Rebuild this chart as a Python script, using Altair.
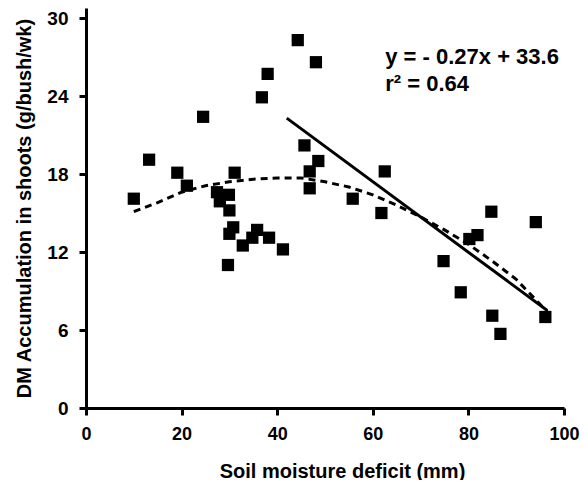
import altair as alt
import pandas as pd

# Observed points (soil moisture deficit mm, DM accumulation g/bush/wk)
pt_x = [10.0, 13.2, 19.1, 21.1, 24.5, 27.4, 28.0, 29.9, 30.0, 31.1, 30.8, 30.0, 29.7,
        32.8, 34.8, 35.8, 38.3, 41.2, 36.8, 38.0, 44.3, 48.1, 45.7, 48.6, 46.8, 46.8,
        55.8, 62.5, 61.8, 74.8, 78.4, 80.2, 81.9, 84.8, 85.0, 86.7, 94.1, 96.1]
pt_y = [16.1, 19.1, 18.1, 17.1, 22.4, 16.6, 15.9, 16.4, 15.2, 18.1, 13.9, 13.4, 11.0,
        12.5, 13.1, 13.7, 13.1, 12.2, 23.9, 25.7, 28.3, 26.6, 20.2, 19.0, 18.2, 16.9,
        16.1, 18.2, 15.0, 11.3, 8.9, 13.0, 13.3, 15.1, 7.1, 5.7, 14.3, 7.0]

# Dashed (curvilinear) trend
curve_x = [10, 15, 20, 25, 30, 35, 40, 45, 50, 55, 60, 65, 70, 75, 80, 85, 90, 96.5]
curve_y = [15.1, 15.8, 16.6, 17.1, 17.4, 17.6, 17.7, 17.7, 17.4, 17.0, 16.4, 15.6,
           14.7, 13.7, 12.6, 11.3, 9.9, 7.4]

# Solid linear fit end points
fit_x = [42.0, 96.5]
fit_y = [22.3, 7.5]

ann_text = ["y = - 0.27x + 33.6", "r\u00b2 = 0.64"]
ann_x = [62.6, 62.6]
ann_y = [26.46, 24.38]

x_ticks = [0, 20, 40, 60, 80, 100]
y_ticks = [0, 6, 12, 18, 24, 30]

FONT = "Liberation Sans"

pts = pd.DataFrame({"x": pt_x, "y": pt_y})
curve = pd.DataFrame({"x": curve_x, "y": curve_y})
fit = pd.DataFrame({"x": fit_x, "y": fit_y})
ann = pd.DataFrame({"x": ann_x, "y": ann_y, "t": ann_text})

xs = alt.Scale(domain=[0, 100], nice=False, zero=False)
ys = alt.Scale(domain=[0, 30.77], nice=False, zero=False)

xaxis = alt.Axis(values=x_ticks, grid=False, domainWidth=3, domainColor="black",
                 tickWidth=3, tickColor="black", tickSize=7, labelPadding=10,
                 labelFlush=False,
                 labelFont=FONT, labelFontSize=18, labelFontWeight="bold", labelColor="black",
                 title="Soil moisture deficit (mm)", titleFont=FONT, titleFontSize=20,
                 titleFontWeight="bold", titleColor="black", titlePadding=18, titleX=256)
yaxis = alt.Axis(values=y_ticks, grid=False, domainWidth=3, domainColor="black",
                 tickWidth=3, tickColor="black", tickSize=7, labelPadding=11,
                 labelFlush=False,
                 labelFont=FONT, labelFontSize=19, labelFontWeight="bold", labelColor="black",
                 title="DM Accumulation in shoots  (g/bush/wk)", titleFont=FONT,
                 titleFontSize=20, titleFontWeight="bold", titleColor="black",
                 titlePadding=12)

points = alt.Chart(pts).mark_square(size=150, color="black", opacity=1).encode(
    x=alt.X("x:Q", scale=xs, axis=xaxis),
    y=alt.Y("y:Q", scale=ys, axis=yaxis),
)
dashed = alt.Chart(curve).mark_line(color="black", strokeWidth=3, strokeDash=[7, 5]).encode(
    x=alt.X("x:Q", scale=xs), y=alt.Y("y:Q", scale=ys))
solid = alt.Chart(fit).mark_line(color="black", strokeWidth=3).encode(
    x=alt.X("x:Q", scale=xs), y=alt.Y("y:Q", scale=ys))
text = alt.Chart(ann).mark_text(align="left", baseline="alphabetic", font=FONT,
                                fontSize=22, fontWeight="bold", color="black").encode(
    x=alt.X("x:Q", scale=xs), y=alt.Y("y:Q", scale=ys), text="t:N")

chart = alt.layer(points, dashed, solid, text).properties(
    width=478, height=400,
    autosize=alt.AutoSizeParams(type="none"),
    padding={"left": 78, "top": 0, "right": 16, "bottom": 72},
    background="white",
).configure_view(stroke=None)

chart.save("out.html", embed_options={"renderer": "svg", "actions": False})
